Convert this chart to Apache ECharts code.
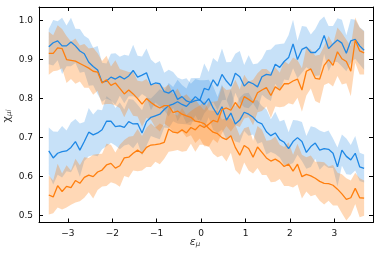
<!DOCTYPE html>
<html><head><meta charset="utf-8">
<script src="https://cdn.jsdelivr.net/npm/echarts@6/dist/echarts.min.js"></script>
<style>html,body{margin:0;padding:0;background:#fff}#c{width:381px;height:254px}</style>
</head><body><div id="c"></div><script>
const eps = [-3.43,-3.33,-3.23,-3.13,-3.03,-2.93,-2.83,-2.73,-2.63,-2.53,
-2.43,-2.33,-2.23,-2.13,-2.03,-1.93,-1.83,-1.73,-1.63,-1.53,
-1.43,-1.33,-1.23,-1.13,-1.03,-0.93,-0.83,-0.73,-0.63,-0.53,
-0.43,-0.33,-0.23,-0.13,-0.03,0.07,0.17,0.27,0.37,0.47,
0.57,0.67,0.77,0.87,0.97,1.07,1.17,1.27,1.37,1.47,
1.57,1.67,1.77,1.87,1.97,2.07,2.17,2.27,2.37,2.47,
2.57,2.67,2.77,2.87,2.97,3.07,3.17,3.27,3.37,3.47,
3.57,3.67];

const blueDown = [0.933,0.943,0.948,0.935,0.935,0.945,0.935,0.922,0.915,0.893,
0.882,0.873,0.842,0.845,0.855,0.850,0.857,0.850,0.858,0.872,
0.855,0.860,0.866,0.835,0.840,0.838,0.818,0.814,0.822,0.798,
0.805,0.794,0.790,0.795,0.797,0.785,0.800,0.776,0.758,0.779,
0.745,0.763,0.735,0.745,0.765,0.760,0.752,0.740,0.735,0.715,
0.705,0.712,0.695,0.688,0.672,0.690,0.700,0.690,0.662,0.677,
0.686,0.668,0.672,0.670,0.660,0.625,0.668,0.652,0.643,0.660,
0.625,0.621];

const blueUp = [0.666,0.648,0.660,0.664,0.666,0.675,0.690,0.668,0.690,0.714,
0.707,0.712,0.720,0.742,0.742,0.728,0.730,0.726,0.741,0.735,
0.736,0.712,0.741,0.752,0.756,0.760,0.772,0.782,0.786,0.792,
0.785,0.780,0.792,0.805,0.795,0.826,0.822,0.848,0.832,0.862,
0.845,0.832,0.865,0.856,0.832,0.843,0.838,0.830,0.856,0.862,
0.860,0.888,0.880,0.895,0.905,0.940,0.900,0.926,0.932,0.918,
0.918,0.930,0.962,0.928,0.940,0.950,0.942,0.916,0.948,0.952,
0.935,0.924];

const orangeDown = [0.916,0.916,0.930,0.928,0.900,0.898,0.896,0.890,0.884,0.878,
0.870,0.868,0.840,0.848,0.834,0.840,0.826,0.812,0.822,0.812,
0.800,0.786,0.800,0.790,0.782,0.776,0.782,0.782,0.764,0.768,
0.760,0.756,0.752,0.742,0.740,0.736,0.724,0.714,0.710,0.700,
0.695,0.705,0.675,0.655,0.680,0.672,0.650,0.676,0.662,0.648,
0.640,0.645,0.638,0.626,0.632,0.614,0.632,0.600,0.606,0.602,
0.596,0.588,0.583,0.582,0.578,0.568,0.556,0.542,0.546,0.570,
0.546,0.545];

const orangeUp = [0.553,0.548,0.577,0.562,0.575,0.572,0.590,0.583,0.598,0.604,
0.600,0.612,0.617,0.630,0.634,0.622,0.628,0.648,0.650,0.660,
0.668,0.660,0.675,0.681,0.682,0.684,0.688,0.722,0.714,0.712,
0.720,0.712,0.726,0.720,0.732,0.726,0.734,0.744,0.740,0.772,
0.776,0.770,0.790,0.775,0.805,0.798,0.790,0.815,0.822,0.828,
0.808,0.830,0.822,0.838,0.838,0.845,0.850,0.822,0.870,0.876,
0.852,0.850,0.885,0.900,0.885,0.920,0.902,0.895,0.870,0.950,
0.922,0.917];

// half-widths of the shaded bands
const blueDownErr = [0.045,0.058,0.05,0.072,0.052,0.062,0.044,0.056,0.046,0.06,
0.048,0.062,0.05,0.045,0.06,0.066,0.05,0.062,0.052,0.066,
0.055,0.048,0.062,0.065,0.05,0.058,0.048,0.06,0.046,0.056,
0.044,0.058,0.048,0.055,0.05,0.062,0.048,0.056,0.046,0.058,
0.05,0.06,0.045,0.058,0.048,0.055,0.044,0.056,0.046,0.058,
0.042,0.054,0.046,0.058,0.042,0.055,0.044,0.05,0.042,0.052,
0.04,0.05,0.042,0.048,0.038,0.05,0.04,0.046,0.038,0.044,
0.036,0.036];
const blueUpErr = [0.06,0.068,0.055,0.066,0.052,0.064,0.058,0.068,0.05,0.062,
0.052,0.06,0.05,0.064,0.055,0.048,0.06,0.046,0.058,0.062,
0.048,0.058,0.062,0.048,0.056,0.064,0.046,0.058,0.044,0.056,
0.05,0.046,0.06,0.048,0.058,0.064,0.046,0.056,0.062,0.066,
0.048,0.062,0.05,0.066,0.054,0.068,0.05,0.06,0.046,0.062,
0.066,0.05,0.06,0.046,0.058,0.062,0.048,0.06,0.052,0.046,
0.06,0.07,0.048,0.058,0.046,0.056,0.06,0.046,0.056,0.05,
0.048,0.05];
const orangeDownErr = [0.055,0.046,0.058,0.05,0.06,0.048,0.058,0.046,0.056,0.05,
0.06,0.048,0.056,0.062,0.048,0.058,0.05,0.06,0.046,0.056,
0.046,0.058,0.05,0.044,0.056,0.06,0.046,0.054,0.048,0.058,
0.044,0.055,0.046,0.056,0.042,0.058,0.046,0.055,0.06,0.046,
0.056,0.044,0.058,0.05,0.044,0.056,0.042,0.054,0.058,0.044,
0.054,0.058,0.044,0.05,0.056,0.042,0.052,0.056,0.044,0.052,
0.042,0.05,0.054,0.044,0.052,0.042,0.05,0.054,0.044,0.04,
0.05,0.045];
const orangeUpErr = [0.05,0.042,0.056,0.046,0.054,0.044,0.056,0.046,0.052,0.044,
0.056,0.046,0.042,0.054,0.048,0.04,0.054,0.046,0.052,0.044,
0.054,0.044,0.05,0.056,0.044,0.052,0.042,0.058,0.048,0.044,
0.056,0.046,0.042,0.056,0.05,0.044,0.058,0.048,0.054,0.06,
0.046,0.054,0.058,0.048,0.056,0.046,0.058,0.05,0.054,0.048,
0.058,0.05,0.044,0.058,0.05,0.06,0.048,0.056,0.062,0.05,
0.058,0.062,0.05,0.06,0.054,0.062,0.066,0.056,0.064,0.058,
0.06,0.055];

const xTicks = [-3,-2,-1,0,1,2,3];
const xTickLabels = ['\u22123','\u22122','\u22121','0','1','2','3'];
const yTicks = [0.5,0.6,0.7,0.8,0.9,1.0];
const yTickLabels = ['0.5','0.6','0.7','0.8','0.9','1.0'];

const BLUE = '#1f88e5', ORANGE = '#ff7f0e';
const BLUE_FILL = 'rgba(31,136,229,0.25)', ORANGE_FILL = 'rgba(255,127,14,0.3)';
const XMIN = -3.65, XMAX = 3.87, YMIN = 0.4826, YMAX = 1.0346;

function lookup(ticks, labels){
  return v => { for (let i=0;i<ticks.length;i++) if (Math.abs(ticks[i]-v)<1e-9) return labels[i]; return ''; };
}
// shaded band: one polygon through (x, center-err) and (x, center+err), mapped by the axes
function bandSeries(center, err, fill){
  const rows = center.map((v,i)=>[eps[i], v-err[i], v+err[i]]);
  return {
    type:'custom', silent:true, data:rows,
    encode:{x:0, y:[1,2]},
    renderItem:function(params, api){
      if (params.dataIndex !== 0) return null;
      const pts = [];
      for (let i=0;i<rows.length;i++) pts.push(api.coord([rows[i][0], rows[i][2]]));
      for (let i=rows.length-1;i>=0;i--) pts.push(api.coord([rows[i][0], rows[i][1]]));
      return {type:'polygon', shape:{points:pts}, style:{fill:fill, stroke:null}};
    }
  };
}
function lineSeries(center, color){
  return {type:'line', symbol:'none', silent:true, lineStyle:{color:color, width:1.3},
    data:center.map((v,i)=>[eps[i], v])};
}
const axisCommonX = {type:'value', min:XMIN, max:XMAX, splitLine:{show:false},
  axisLine:{show:true, onZero:false, lineStyle:{color:'#000', width:1}},
  axisTick:{show:true, inside:true, length:4, customValues:xTicks, lineStyle:{color:'#000'}}};
const axisCommonY = {type:'value', min:YMIN, max:YMAX, splitLine:{show:false},
  axisLine:{show:true, onZero:false, lineStyle:{color:'#000', width:1}},
  axisTick:{show:true, inside:true, length:4, customValues:yTicks, lineStyle:{color:'#000'}}};

const chart = echarts.init(document.getElementById('c'), null, {renderer:'canvas'});
chart.setOption({
  animation:false,
  backgroundColor:'#fff',
  grid:{left:39, right:8, top:7, bottom:31.5, containLabel:false},
  xAxis:[
    Object.assign({}, axisCommonX, {position:'bottom',
      axisLabel:{show:true, customValues:xTicks, formatter:lookup(xTicks,xTickLabels),
        color:'#111', fontSize:9, fontFamily:'DejaVu Sans', margin:7}}),
    Object.assign({}, axisCommonX, {position:'top', axisLabel:{show:false}})
  ],
  yAxis:[
    Object.assign({}, axisCommonY, {position:'left',
      axisLabel:{show:true, customValues:yTicks, formatter:lookup(yTicks,yTickLabels),
        color:'#111', fontSize:9, fontFamily:'DejaVu Sans', margin:6}}),
    Object.assign({}, axisCommonY, {position:'right', axisLabel:{show:false}})
  ],
  graphic:[
    {type:'text', x:7, y:116, rotation:Math.PI/2, style:{
      text:'{a|\u03c7}{b|\u03bci}', align:'center', verticalAlign:'middle',
      rich:{a:{fontSize:11, fontFamily:'DejaVu Sans', fill:'#333'},
            b:{fontSize:7, fontFamily:'DejaVu Sans', fontStyle:'italic', fill:'#333', padding:[5,0,0,0]}}}},
    {type:'text', x:195, y:242, style:{
      text:'{a|\u03b5}{b|\u03bc}', align:'center', verticalAlign:'middle',
      rich:{a:{fontSize:11, fontFamily:'DejaVu Sans', fontStyle:'italic', fill:'#333'},
            b:{fontSize:7, fontFamily:'DejaVu Sans', fontStyle:'italic', fill:'#333', padding:[5,0,0,0]}}}}
  ],
  series:[
    bandSeries(blueDown, blueDownErr, BLUE_FILL),
    bandSeries(blueUp, blueUpErr, BLUE_FILL),
    lineSeries(blueDown, BLUE),
    lineSeries(blueUp, BLUE),
    bandSeries(orangeDown, orangeDownErr, ORANGE_FILL),
    bandSeries(orangeUp, orangeUpErr, ORANGE_FILL),
    lineSeries(orangeDown, ORANGE),
    lineSeries(orangeUp, ORANGE)
  ]
});
</script></body></html>
